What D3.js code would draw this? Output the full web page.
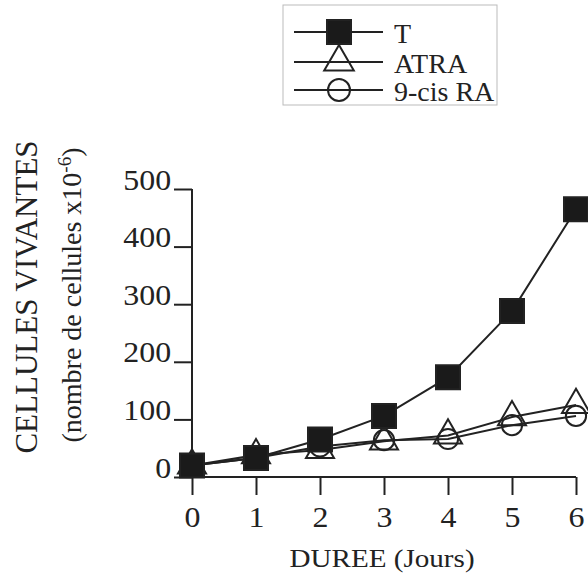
<!DOCTYPE html>
<html>
<head>
    <meta charset="utf-8" />
    <title></title>
    <script src="https://cdn.jsdelivr.net/npm/d3@7"></script>
    <style>
        body { margin: 0; background: #fff; }
        svg text { font-family: "Times New Roman", "Liberation Serif", Times, serif; fill: #222; }
        .axis path, .axis line { stroke: #222; stroke-width: 2; }
    </style>
</head>
<body>
    <svg class="chart" width="588" height="579"></svg>

    <script>
    var days = [0, 1, 2, 3, 4, 5, 6];
    var yTicks = [0, 100, 200, 300, 400, 500];
    var seriesNames = ["T", "ATRA", "9-cis RA"];
    var valuesT = [20, 33, 65, 106, 173, 288, 465];
    var valuesATRA = [20, 38, 47, 62, 72, 104, 125];
    var valuesCis = [20, 33, 53, 64, 66, 90, 106];

    var svg = d3.select(".chart");
    var ink = "#222";
    var serif = '"Times New Roman", "Liberation Serif", Times, serif';

    var x = d3.scaleLinear().domain([0, 6]).range([192, 576]);
    var y = d3.scaleLinear().domain([0, 500]).range([477, 189]);

    // y axis
    var yAxis = svg.append("g")
        .attr("class", "axis")
        .attr("transform", "translate(192,0)")
        .call(d3.axisLeft(y).tickValues(yTicks).tickFormat(d3.format("d"))
            .tickSize(18).tickSizeOuter(0).tickPadding(3));
    yAxis.attr("font-family", serif);
    yAxis.selectAll("text")
        .attr("dy", "0")
        .attr("x", -19)
        .attr("transform", "scale(1.1,1)")
        .style("font-size", "29px");

    // x axis
    var xAxis = svg.append("g")
        .attr("class", "axis")
        .attr("transform", "translate(0,477)")
        .call(d3.axisBottom(x).tickValues(days).tickFormat(d3.format("d"))
            .tickSize(18).tickSizeOuter(0));
    xAxis.attr("font-family", serif);
    xAxis.selectAll("text")
        .attr("dy", "0")
        .attr("y", 50)
        .style("font-size", "29px")
        .attr("transform", "scale(1.1,1)");
    xAxis.selectAll(".domain").attr("d", "M" + x(0) + ",0H" + x(6));
    yAxis.selectAll(".domain").attr("d", "M0," + y(0) + "V" + y(500));
    svg.selectAll(".axis text").attr("fill", ink);

    // axis titles
    svg.append("text")
        .attr("transform", "translate(382,567) scale(1.12,1)")
        .attr("text-anchor", "middle")
        .style("font-size", "26px")
        .text("DUREE (Jours)");

    svg.append("text")
        .attr("transform", "translate(37,297) rotate(-90)")
        .attr("text-anchor", "middle")
        .style("font-size", "31px")
        .text("CELLULES VIVANTES");

    var sub = svg.append("text")
        .attr("transform", "translate(81,295) rotate(-90)")
        .attr("text-anchor", "middle")
        .style("font-size", "28px");
    sub.append("tspan").text("(nombre de cellules x10");
    sub.append("tspan").attr("dy", -10).style("font-size", "19px").text("-6");
    sub.append("tspan").attr("dy", 10).text(")");

    // series
    var series = [
        { name: seriesNames[2], values: valuesCis, shape: d3.symbolCircle, size: 320, fill: "none" },
        { name: seriesNames[1], values: valuesATRA, shape: d3.symbolTriangle, size: 340, fill: "none" },
        { name: seriesNames[0], values: valuesT, shape: d3.symbolSquare, size: 576, fill: "#1a1a1a" }
    ];

    var line = d3.line()
        .x(function (d, i) { return x(days[i]); })
        .y(function (d) { return y(d); });

    series.forEach(function (s) {
        svg.append("path")
            .attr("d", line(s.values))
            .attr("fill", "none")
            .attr("stroke", ink)
            .attr("stroke-width", 2);
        svg.selectAll(null)
            .data(s.values)
            .enter().append("path")
            .attr("transform", function (d, i) { return "translate(" + x(days[i]) + "," + y(d) + ")"; })
            .attr("d", d3.symbol().type(s.shape).size(s.size))
            .attr("fill", s.fill)
            .attr("stroke", ink)
            .attr("stroke-width", 2);
    });

    // legend
    svg.append("rect")
        .attr("x", 283).attr("y", 5)
        .attr("width", 214).attr("height", 100)
        .attr("fill", "none")
        .attr("stroke", "#bbb")
        .attr("stroke-width", 1);

    var legendRows = [series[2], series[1], series[0]];
    var legendY = [32, 62, 90];
    var legendSize = [576, 380, 380];
    var lg = svg.selectAll(".legend")
        .data(legendRows)
        .enter().append("g")
        .attr("class", "legend")
        .attr("transform", function (d, i) { return "translate(0," + legendY[i] + ")"; });
    lg.append("line")
        .attr("x1", 294).attr("x2", 383)
        .attr("stroke", ink).attr("stroke-width", 2);
    lg.append("path")
        .attr("transform", "translate(339,0)")
        .attr("d", function (d, i) { return d3.symbol().type(d.shape).size(legendSize[i])(); })
        .attr("fill", function (d) { return d.fill; })
        .attr("stroke", ink).attr("stroke-width", 2);
    lg.append("text")
        .attr("x", 394).attr("y", 11)
        .style("font-size", "28px")
        .text(function (d) { return d.name; });
    </script>
</body>
</html>
